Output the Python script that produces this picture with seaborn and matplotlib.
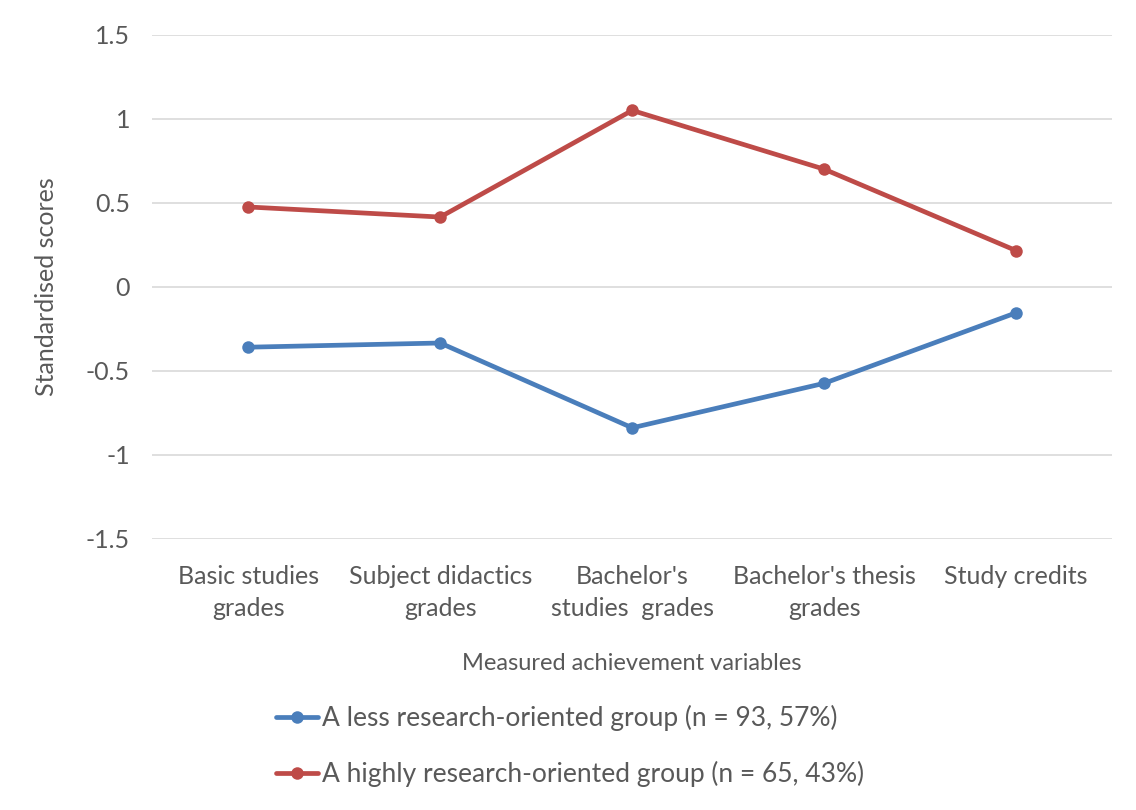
import numpy as np
import pandas as pd
import matplotlib
matplotlib.use("Agg")
import matplotlib.pyplot as plt
import seaborn as sns

categories = ["Basic studies\ngrades", "Subject didactics\ngrades", "Bachelor's\nstudies  grades",
              "Bachelor's thesis\ngrades", "Study credits"]
less_group = [-0.36, -0.335, -0.84, -0.575, -0.155]
high_group = [0.475, 0.415, 1.05, 0.70, 0.215]
series_names = ["A less research-oriented group (n = 93, 57%)",
                "A highly research-oriented group (n = 65, 43%)"]
colors = ["#4A7EBB", "#BE4B48"]

df = pd.DataFrame({
    "variable": categories * 2,
    "score": less_group + high_group,
    "group": [series_names[0]] * len(categories) + [series_names[1]] * len(categories),
})

sns.set_theme(style="white")
plt.rcParams["font.family"] = ["Lato", "DejaVu Sans"]
text_col = "#595959"

fig = plt.figure(figsize=(11.36, 8.10), dpi=100)
ax = fig.add_axes([0.134, 0.335, 0.845, 0.622])

sns.lineplot(data=df, x="variable", y="score", hue="group", palette=colors,
             marker="o", markersize=9, markeredgewidth=0, linewidth=3.4,
             sort=False, ax=ax)

ax.set_ylim(-1.5, 1.5)
ax.set_xlim(-0.5, 4.5)
ax.set_yticks([-1.5, -1, -0.5, 0, 0.5, 1, 1.5])
ax.set_yticklabels(["-1.5", "-1", "-0.5", "0", "0.5", "1", "1.5"])
ax.yaxis.grid(True, color="#D9D9D9", linewidth=1.2)
ax.set_axisbelow(True)
for s in ax.spines.values():
    s.set_visible(False)
ax.tick_params(axis="both", length=0, labelsize=18, colors=text_col)
ax.tick_params(axis="x", pad=19)
ax.tick_params(axis="y", pad=16)
for lab in ax.get_xticklabels():
    lab.set_linespacing(1.45)
ax.set_xlabel("Measured achievement variables", fontsize=17, color=text_col, labelpad=24)
ax.set_ylabel("Standardised scores", fontsize=18, color=text_col, labelpad=20)

handles, labels = ax.get_legend_handles_labels()
ax.legend_.remove()
fig.legend(handles, labels, loc="center", bbox_to_anchor=(0.502, 0.079), ncol=1,
           frameon=False, fontsize=19, labelcolor=text_col, handlelength=1.6,
           handletextpad=0.15, labelspacing=1.15)

fig.savefig("out.png", dpi=100)
